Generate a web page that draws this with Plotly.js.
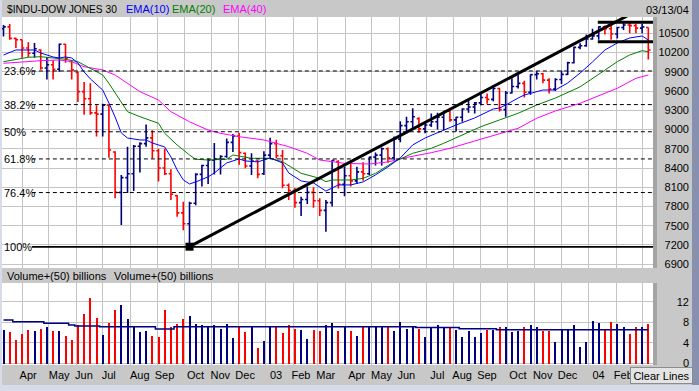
<!DOCTYPE html>
<html><head><meta charset="utf-8">
<script src="https://cdn.plot.ly/plotly-3.0.1.min.js"></script>
<style>html,body{margin:0;padding:0;background:#c8c8c8;overflow:hidden}#chart{width:699px;height:391px}</style>
</head><body><div id="chart"></div>
<script>
// ---------- data (weekly bars, week starting Monday) ----------
const firstWeek = '2002-03-11';
const open = [10570,10600,10420,10400,10270,10190,10240,9960,10010,9940,
10330,10060,9890,9590,9480,9260,9240,9380,8650,8020,
8250,8310,8740,8780,8870,8670,8400,8310,7970,7700,
7530,7850,8300,8440,8520,8540,8580,8800,8900,8630,
8430,8510,8310,8600,8780,8590,8130,8050,7860,7910,
8020,7890,7740,7860,8500,8145,8280,8200,8340,8310,
8570,8600,8700,8560,8850,9060,9120,9170,9010,9070,
9120,9190,9285,9150,9190,9320,9350,9415,9500,9470,
9640,9310,9570,9670,9720,9580,9855,9870,9770,9630,
9780,9860,10040,10280,10305,10410,10460,10600,10570,10490,
10590,10630,10620,10580,10590];
const high = [10630,10645,10430,10400,10360,10350,10250,10130,10080,10340,
10335,10070,9900,9740,9720,9380,9400,9390,8660,8290,
8730,8760,8800,9080,8990,8700,8700,8380,7980,7875,
7875,8320,8450,8550,8790,8600,8860,8930,8950,8640,
8630,8525,8660,8870,8840,8680,8160,8090,7950,8110,
8100,7930,7900,8524,8520,8420,8470,8420,8490,8576,
8640,8720,8720,8890,9130,9200,9330,9190,9100,9250,
9260,9290,9330,9200,9330,9460,9430,9590,9560,9690,
9650,9600,9800,9850,9760,9860,9910,9880,9800,9800,
9920,10057,10290,10344,10480,10570,10610,10620,10650,10600,
10680,10690,10650,10650,10590];
const low = [10450,10400,10270,10120,10130,10120,9930,9780,9780,9900,
10040,9780,9430,9230,9230,8890,8890,8560,7930,7510,
8010,8040,8330,8730,8550,8190,8290,7900,7640,7430,
7173,7820,8110,8150,8300,8300,8560,8650,8450,8395,
8290,8240,8290,8550,8550,8084,7900,7780,7650,7840,
7780,7650,7407,7800,8080,7960,8110,8150,8200,8290,
8440,8440,8480,8525,8800,8950,9000,8950,8940,9040,
9000,8990,9120,8970,9120,9260,9250,9380,9400,9440,
9280,9200,9560,9640,9500,9540,9780,9720,9560,9600,
9710,9850,10030,10250,10290,10400,10400,10480,10400,10420,
10550,10500,10500,10500,10090];
const close = [10600,10420,10400,10270,10190,10260,9960,10010,9940,10330,
10110,9930,9590,9480,9260,9240,9380,8680,8020,8250,
8310,8740,8780,8870,8670,8400,8310,7990,7700,7530,
7850,8300,8440,8520,8540,8580,8800,8900,8640,8430,
8510,8300,8600,8780,8590,8130,8050,7860,7910,8020,
7890,7740,7860,8520,8145,8280,8200,8340,8310,8570,
8600,8700,8560,8850,9060,9120,9200,9010,9070,9120,
9190,9285,9150,9190,9320,9350,9415,9500,9470,9640,
9310,9570,9670,9720,9580,9855,9870,9770,9630,9780,
9860,10040,10280,10305,10410,10460,10600,10570,10490,10590,
10630,10620,10580,10600,10240];
// volume, billions of shares per week
const volume = [6.5,6.2,4.6,5.7,6.5,6.3,6.7,7.0,6.3,6.3,
5.4,4.6,7.5,9.7,12.8,8.9,5.5,7.9,10.4,11.4,
8.6,7.3,6.2,6.3,5.4,5.2,10.4,7.1,7.7,8.6,
9.2,7.7,7.5,7.1,7.5,6.7,7.7,5.0,7.0,6.2,
7.0,3.1,4.4,7.3,7.0,6.0,7.5,6.7,6.5,4.8,
6.5,6.3,7.5,7.9,6.3,7.0,6.3,5.4,7.0,7.3,
7.0,7.3,7.0,6.3,8.0,6.7,7.3,6.7,5.2,7.0,
7.5,6.8,6.8,6.5,5.2,6.3,5.2,5.9,6.5,6.6,
7.0,7.1,6.2,6.3,7.1,7.5,7.0,6.4,6.4,4.2,
6.7,6.5,7.5,3.3,4.2,8.3,7.8,6.7,8.0,7.7,
7.1,5.7,7.1,7.0,7.7];
// 50-week volume average
const volumeAvg = [8.45,8.45,8.1,8.1,8.1,8.1,8.1,7.8,7.8,7.8,
7.8,7.5,7.3,7.3,7.3,7.3,7.15,7.15,7.15,7.15,
7.15,7.15,7.15,7.15,7.15,6.7,6.7,6.7,7.15,7.15,
7.15,7.15,7.15,7.15,7.15,7.15,7.15,7.15,7.15,7.15,
7.15,7.15,7.15,7.15,7.15,7.15,7.15,7.15,7.15,7.15,
7.15,7.15,7.15,7.15,7.15,7.15,7.15,7.15,7.15,7.15,
7.15,7.15,7.15,7.15,7.15,7.15,7.15,7.0,7.0,7.0,
7.0,7.0,7.0,7.0,6.75,6.75,6.75,6.75,6.75,6.75,
6.55,6.55,6.55,6.55,6.55,6.55,6.55,6.55,6.55,6.55,
6.55,6.55,6.55,6.55,6.55,6.55,6.55,6.55,6.55,6.55,
6.55,6.55,6.55,6.55,6.55];
// moving averages at these week numbers
const ema10Week = [0,2,5,6,8,9,10,11,12,13,14,16,17,18,19,20,22,23,24,26,27,28,29,30,31,33,34,36,38,39,41,43,45,46,48,50,52,54,56,58,60,62,64,66,68,71,73,76,79,80,81,83,84,87,88,89,91,93,95,97,99,101,103,104];
const ema10 = [10162,10240,10240,10193,10131,10115,10131,10115,10037,9897,9790,9616,9413,9195,8946,8868,8837,8837,8790,8728,8572,8370,8214,8151,8183,8261,8323,8479,8541,8510,8495,8557,8479,8323,8198,8167,8040,8136,8136,8183,8292,8417,8557,8760,8868,8993,9071,9180,9320,9335,9382,9491,9538,9616,9616,9616,9725,9881,10053,10240,10349,10427,10458,10396];
const ema20Week = [0,2,4,6,8,10,12,14,16,17,19,20,22,25,26,28,30,31,33,36,37,40,43,45,48,51,52,53,56,58,60,63,66,69,71,74,77,80,83,86,89,93,97,99,101,103,104];
const ema20 = [10057,10095,10126,10135,10110,10095,10057,9954,9850,9720,9430,9278,9200,9097,8941,8759,8603,8536,8525,8536,8603,8551,8551,8498,8317,8239,8186,8213,8213,8239,8317,8498,8629,8707,8785,8915,9044,9149,9253,9382,9490,9665,9928,10057,10162,10229,10213];
const ema40Week = [0,3,6,9,11,13,16,18,20,22,25,27,30,33,35,38,42,46,49,51,55,59,62,65,69,72,76,80,83,86,89,93,99,102,104];
const ema40 = [10032,10057,10073,10084,10057,9979,9928,9850,9720,9590,9460,9278,9120,8992,8941,8888,8837,8732,8629,8525,8473,8462,8494,8564,8639,8707,8821,8941,9019,9175,9289,9409,9643,9798,9850];
// drawn lines
const trendDates = ['2002-10-07','2004-02-15'];
const trendValues = [7173,10785];
const channelDates = ['2004-01-11','2004-03-14'];
const channelTop = 10671;
const channelBottom = 10369;
// Fibonacci retracement
const fibHigh = 10760, fibLow = 7170;
const fibRatios = [0.236,0.382,0.5,0.618,0.764,1.0];
const fibLabels = ['23.6%','38.2%','50%','61.8%','76.4%','100%'];
const fibStart = '2002-04-12';
// axes
const xRange = ['2002-03-09 07:00','2004-03-13 07:00'];
const monthStarts = ['2002-04-01','2002-05-01','2002-06-01','2002-07-01','2002-08-01','2002-09-01','2002-10-01','2002-11-01','2002-12-01','2003-01-01','2003-02-01','2003-03-01','2003-04-01','2003-05-01','2003-06-01','2003-07-01','2003-08-01','2003-09-01','2003-10-01','2003-11-01','2003-12-01','2004-01-01','2004-02-01','2004-03-01'];
// the last month label (Mar 04) sits under the "Clear Lines" button in the original, so it is not shown
const monthLabelDates = ['2002-04-01','2002-05-06','2002-06-03','2002-07-01','2002-08-05','2002-09-02','2002-10-07','2002-11-04','2002-12-02','2003-01-06','2003-02-03','2003-03-03','2003-04-07','2003-05-05','2003-06-02','2003-07-07','2003-08-04','2003-09-01','2003-10-06','2003-11-03','2003-12-01','2004-01-05','2004-02-02'];
const monthLabels = ['Apr','May','Jun','Jul','Aug','Sep','Oct','Nov','Dec','03','Feb','Mar','Apr','May','Jun','Jul','Aug','Sep','Oct','Nov','Dec','04','Feb'];
const priceRange = [6841,10754];
const volumeRange = [-0.29,15.63];

// ---------- build ----------
function addDays(iso, n){const d=new Date(iso+'T00:00:00Z');d.setUTCDate(d.getUTCDate()+n);return d.toISOString().slice(0,10);}
const weeks = close.map((_, i) => addDays(firstWeek, 7*i));
const up = close.map((c, i) => i === 0 ? c >= open[0] : c >= close[i-1]);
const NAVY = '#000080', RED = '#ff0000';
function pick(arr, flag){return arr.filter((_, i) => up[i] === flag);}

const FONT = 'Liberation Sans, Arial, sans-serif';
const traces = [];
[[true, NAVY], [false, RED]].forEach(([flag, col]) => {
  traces.push({type:'ohlc', xaxis:'x', yaxis:'y', x:pick(weeks,flag), open:pick(open,flag), high:pick(high,flag), low:pick(low,flag), close:pick(close,flag),
    increasing:{line:{color:col, width:1.6}}, decreasing:{line:{color:col, width:1.6}}, tickwidth:0.36, hoverinfo:'skip', showlegend:false});
});
traces.push({type:'scatter', mode:'lines', x:ema40Week.map(i=>weeks[i]), y:ema40, line:{color:'#ff00ff', width:1}, hoverinfo:'skip', showlegend:false});
traces.push({type:'scatter', mode:'lines', x:ema20Week.map(i=>weeks[i]), y:ema20, line:{color:'#008000', width:1}, hoverinfo:'skip', showlegend:false});
traces.push({type:'scatter', mode:'lines', x:ema10Week.map(i=>weeks[i]), y:ema10, line:{color:'#0000ff', width:1}, hoverinfo:'skip', showlegend:false});
fibRatios.forEach((r, k) => {
  const lvl = fibHigh - r*(fibHigh - fibLow);
  traces.push({type:'scatter', mode:'lines', x:[fibStart, xRange[1]], y:[lvl,lvl], line:{color:'#000', width: r===1 ? 1.6 : 1, dash: r===1 ? 'solid' : '4px,3px'}, hoverinfo:'skip', showlegend:false});
});
traces.push({type:'scatter', mode:'lines+markers', x:trendDates, y:trendValues, line:{color:'#000', width:3}, marker:{symbol:'square', size:8, color:'#000'}, cliponaxis:false, hoverinfo:'skip', showlegend:false});
traces.push({type:'scatter', mode:'lines', x:channelDates, y:[channelTop,channelTop], line:{color:'#000', width:3}, hoverinfo:'skip', showlegend:false});
traces.push({type:'scatter', mode:'lines', x:channelDates, y:[channelBottom,channelBottom], line:{color:'#000', width:3}, hoverinfo:'skip', showlegend:false});
// volume
traces.push({type:'bar', xaxis:'x2', yaxis:'y2', x:weeks, y:volume, width:195000000, marker:{color:up.map(u=>u?NAVY:RED), line:{width:0}}, hoverinfo:'skip', showlegend:false});
traces.push({type:'scatter', mode:'lines', xaxis:'x3', yaxis:'y2', x:weeks, y:volumeAvg, line:{color:NAVY, width:1.5, shape:'hvh'}, hoverinfo:'skip', showlegend:false});

const W = 687, H = 348; // plot area size
const px = x => (x - 2)/W, py = y => (365 - y)/H;
const GRID = '#c4c4c4';
const tf = {family:FONT, size:11, color:'#000'};
const ann = [];
function txt(t, x, y, color, size){ann.push({text:t, xref:'paper', yref:'paper', x:px(x), y:py(y), xanchor:'left', yanchor:'middle', showarrow:false, font:{family:FONT, size:size||11, color:color||'#000'}});}
txt('$INDU-DOW JONES 30', 5, 9, '#000', 10.2);
txt('EMA(10)', 124, 9, '#0000ff');
txt('EMA(20)', 170, 9, '#008000');
txt('EMA(40)', 221, 9, '#ff00ff');
txt('03/13/04', 644, 10, '#000');
txt('Volume+(50) billions', 5, 275.5, '#000');
txt('Volume+(50) billions', 112, 275.5, '#000');
fibRatios.forEach((r, k) => {
  const lvl = fibHigh - r*(fibHigh - fibLow);
  ann.push({text:fibLabels[k], xref:'paper', yref:'y', x:px(2), y:lvl, xanchor:'left', yanchor:'middle', showarrow:false, font:tf});
});
ann.push({text:'Clear Lines', xref:'paper', yref:'paper', x:px(630), y:py(375), xanchor:'left', yanchor:'middle', showarrow:false, font:tf, bgcolor:'#e4e4e4', bordercolor:'#8c8c8c', borderwidth:1, borderpad:1, width:59, height:13});

const shapes = [
  {type:'rect', xref:'paper', yref:'paper', x0:px(653), x1:px(657), y0:py(268), y1:py(17), fillcolor:'#a4a4a4', line:{width:0}, layer:'below'},
  {type:'rect', xref:'paper', yref:'paper', x0:px(653), x1:px(657), y0:py(365), y1:py(283), fillcolor:'#a4a4a4', line:{width:0}, layer:'below'},
  {type:'rect', xref:'paper', yref:'paper', x0:px(692), x1:px(699), y0:py(391), y1:py(0), fillcolor:'#8890b0', line:{width:0}, layer:'below'},
  {type:'rect', xref:'paper', yref:'paper', x0:px(0), x1:px(2), y0:py(391), y1:py(0), fillcolor:'#d8dcea', line:{width:0}, layer:'below'},
  {type:'rect', xref:'paper', yref:'paper', x0:px(0), x1:px(699), y0:py(391), y1:py(385), fillcolor:'#d8dcea', line:{width:0}, layer:'below'}
];

const xBase = {type:'date', range:xRange, domain:[0, px(653)], showgrid:true, gridcolor:GRID, gridwidth:1, zeroline:false, showline:false, ticks:'', fixedrange:true};
const layout = {
  width:699, height:391, margin:{l:2, r:10, t:17, b:26, pad:0},
  paper_bgcolor:'#c8c8c8', plot_bgcolor:'#ffffff', showlegend:false, font:tf,
  xaxis:Object.assign({}, xBase, {anchor:'y', tickvals:monthStarts, showticklabels:false, rangeslider:{visible:false}}),
  xaxis2:Object.assign({}, xBase, {anchor:'y2', tickvals:monthStarts, showticklabels:false}),
  xaxis3:Object.assign({}, xBase, {anchor:'y2', overlaying:'x2', showgrid:false, tickvals:monthLabelDates, ticktext:monthLabels, showticklabels:true, tickfont:tf, ticklabelshift:6, ticklabelstandoff:2}),
  yaxis:{domain:[py(268), 1], range:priceRange, anchor:'free', position:px(689), side:'left', tick0:6900, dtick:300, tickformat:'d', showgrid:true, gridcolor:GRID, zeroline:false, showline:false, ticks:'', tickfont:tf, automargin:false, fixedrange:true},
  yaxis2:{domain:[0, py(283)], range:volumeRange, anchor:'free', position:px(689), side:'left', tick0:0, dtick:4, tickformat:'d', showgrid:true, gridcolor:GRID, zeroline:false, showline:false, ticks:'', tickfont:tf, automargin:false, fixedrange:true},
  annotations:ann, shapes:shapes, bargap:0
};
Plotly.newPlot('chart', traces, layout, {staticPlot:true, displayModeBar:false});
</script></body></html>
